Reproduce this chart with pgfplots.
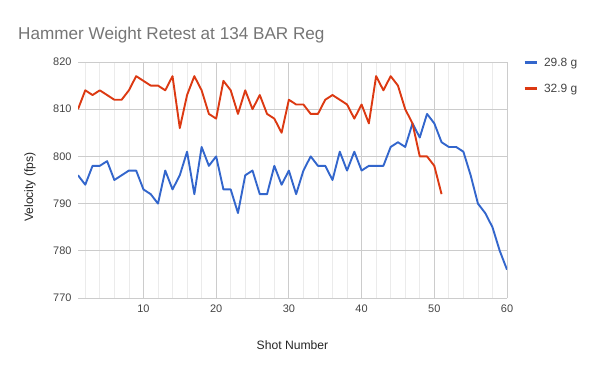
\documentclass[border=0pt]{standalone}
\usepackage{pgfplots}
\pgfplotsset{compat=1.18}
\usepackage{fontspec}
\setmainfont{Liberation Sans}
\definecolor{cblue}{HTML}{3366CC}
\definecolor{cred}{HTML}{DC3912}
\definecolor{majgrid}{HTML}{CCCCCC}
\definecolor{mingrid}{HTML}{EBEBEB}
\definecolor{ticktext}{HTML}{444444}
\definecolor{titletext}{HTML}{757575}
\begin{document}
\begin{tikzpicture}[x=1bp,y=1bp]
\path[use as bounding box] (0,0) rectangle (600,371);
\node[anchor=base west, text=titletext, font=\fontsize{17.2}{20}\selectfont, inner sep=0] at (18,332) {Hammer Weight Retest at 134 BAR Reg};
\begin{axis}[
  scale only axis, width=429bp, height=236bp,
  at={(78bp,73bp)}, anchor=south west,
  xmin=1, xmax=60, ymin=770, ymax=820,
  xtick={10,20,...,60}, minor xtick={2,4,...,58},
  ytick={770,780,...,820},
  grid=both,
  major grid style={draw=majgrid, line width=0.8bp},
  minor grid style={draw=mingrid, line width=0.8bp},
  axis line style={draw=none},
  major tick length=0pt, minor tick length=0pt,
  tick label style={font=\fontsize{11}{13}\selectfont, text=ticktext},
  /pgf/number format/assume math mode=true,
  yticklabel style={xshift=-3bp},
  xticklabel style={yshift=-3bp},
  xlabel={\fontsize{12.2}{14}\selectfont Shot Number}, ylabel={\fontsize{12.2}{14}\selectfont Velocity (fps)},
  every axis x label/.style={at={(rel axis cs:0.5,-0.199)}, anchor=center, text=black!85},
  every axis y label/.style={at={(rel axis cs:-0.112,0.47)}, anchor=center, rotate=90, text=black!85},
  legend cell align=left,
  legend style={draw=none, fill=none, at={(1.03,1.035)}, anchor=north west,
    font=\fontsize{12}{14}\selectfont, text=ticktext, row sep=12bp, column sep=4bp},
  legend image code/.code={\draw[#1, line width=3bp] (0bp,0bp) -- (12bp,0bp);},
]
\addplot[cblue, line width=1.9bp, line join=round] coordinates {
(1,796)(2,794)(3,798)(4,798)(5,799)(6,795)(7,796)(8,797)(9,797)(10,793)
(11,792)(12,790)(13,797)(14,793)(15,796)(16,801)(17,792)(18,802)(19,798)(20,800)
(21,793)(22,793)(23,788)(24,796)(25,797)(26,792)(27,792)(28,798)(29,794)(30,797)
(31,792)(32,797)(33,800)(34,798)(35,798)(36,795)(37,801)(38,797)(39,801)(40,797)
(41,798)(42,798)(43,798)(44,802)(45,803)(46,802)(47,807)(48,804)(49,809)(50,807)
(51,803)(52,802)(53,802)(54,801)(55,796)(56,790)(57,788)(58,785)(59,780)(60,776)
};
\addlegendentry{29.8 g}
\addplot[cred, line width=1.9bp, line join=round] coordinates {
(1,810)(2,814)(3,813)(4,814)(5,813)(6,812)(7,812)(8,814)(9,817)(10,816)
(11,815)(12,815)(13,814)(14,817)(15,806)(16,813)(17,817)(18,814)(19,809)(20,808)
(21,816)(22,814)(23,809)(24,814)(25,810)(26,813)(27,809)(28,808)(29,805)(30,812)
(31,811)(32,811)(33,809)(34,809)(35,812)(36,813)(37,812)(38,811)(39,808)(40,811)
(41,807)(42,817)(43,814)(44,817)(45,815)(46,810)(47,807)(48,800)(49,800)(50,798)
(51,792)
};
\addlegendentry{32.9 g}
\end{axis}
\end{tikzpicture}
\end{document}
